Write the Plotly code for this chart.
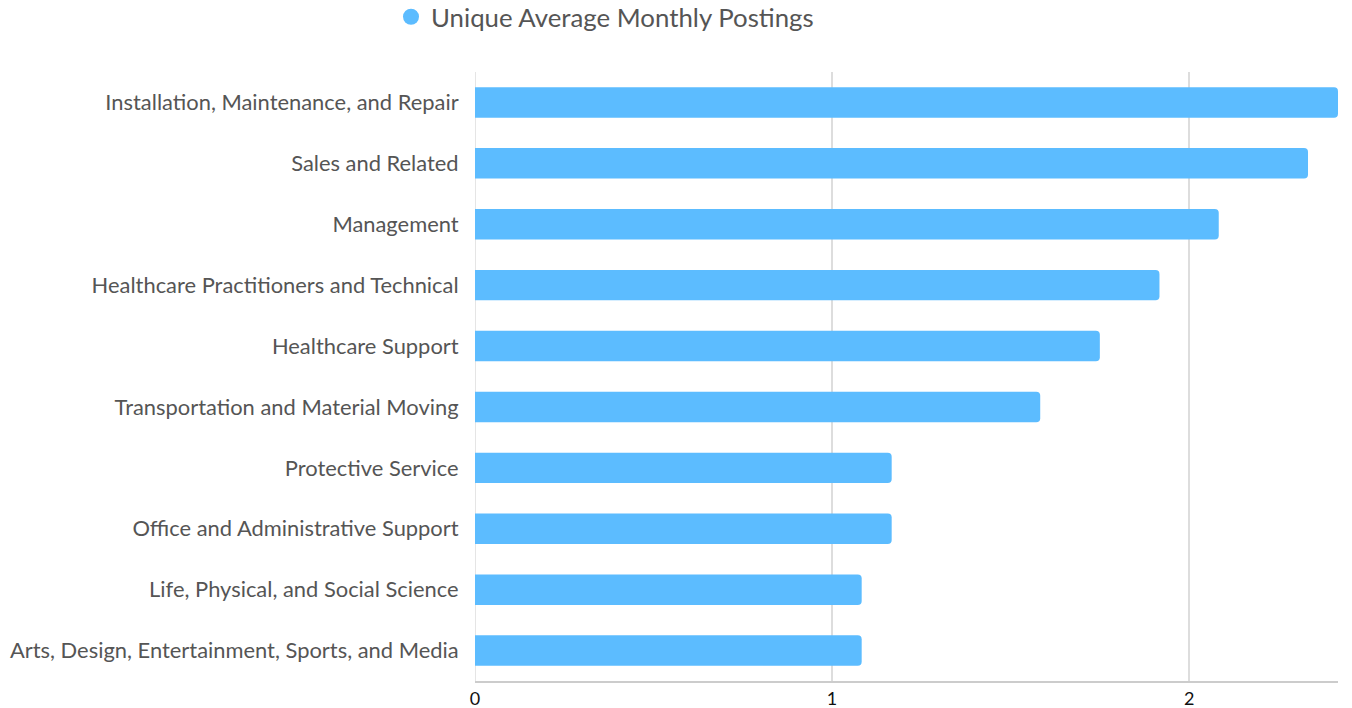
import plotly.graph_objects as go

categories = [
    "Installation, Maintenance, and Repair",
    "Sales and Related",
    "Management",
    "Healthcare Practitioners and Technical",
    "Healthcare Support",
    "Transportation and Material Moving",
    "Protective Service",
    "Office and Administrative Support",
    "Life, Physical, and Social Science",
    "Arts, Design, Entertainment, Sports, and Media",
]
values = [2.417, 2.333, 2.083, 1.917, 1.75, 1.583, 1.167, 1.167, 1.083, 1.083]
series_name = "Unique Average Monthly Postings"
x_ticks = [0, 1, 2]

color = "#5cbcff"
font = "Lato"

W, H = 1352, 708

fig = go.Figure()
fig.add_trace(go.Bar(
    y=categories, x=values, orientation="h",
    marker=dict(color=color, cornerradius=4, line=dict(width=0)),
    showlegend=False, name=series_name,
))
fig.add_trace(go.Scatter(
    x=[None], y=[None], mode="markers", name=series_name,
    marker=dict(symbol="circle", size=18, color=color),
    showlegend=True,
))

fig.update_layout(
    width=W, height=H,
    margin=dict(l=475, r=14, t=72, b=27, autoexpand=False),
    paper_bgcolor="white", plot_bgcolor="white",
    bargap=0.5,
    font=dict(family=font, color="#555555"),
    legend=dict(
        orientation="h", xref="container", yref="paper",
        x=391 / W, y=(681 - 17) / 609, xanchor="left", yanchor="middle",
        font=dict(size=25.8, color="#555555", family=font),
        itemsizing="trace",
    ),
    xaxis=dict(
        range=[0, max(values)], tickvals=x_ticks, ticktext=[str(t) for t in x_ticks],
        showgrid=True, gridcolor="#dddddd", gridwidth=1.5,
        zeroline=False, showline=True, linecolor="#cccccc", linewidth=2,
        tickfont=dict(size=18, color="#111111", family=font),
        ticks="", automargin=False,
    ),
    yaxis=dict(
        categoryorder="array", categoryarray=categories[::-1],
        tickfont=dict(size=21.9, color="#555555", family=font),
        ticks="outside", ticklen=11, tickcolor="rgba(0,0,0,0)",
        showgrid=False, automargin=False, showline=False,
    ),
)
fig.add_vline(x=0, line=dict(color="#dddddd", width=1.5), layer="below")

fig.write_html(
    "out.html",
    config={"displayModeBar": False},
    post_script="document.body.style.margin='0';",
)
